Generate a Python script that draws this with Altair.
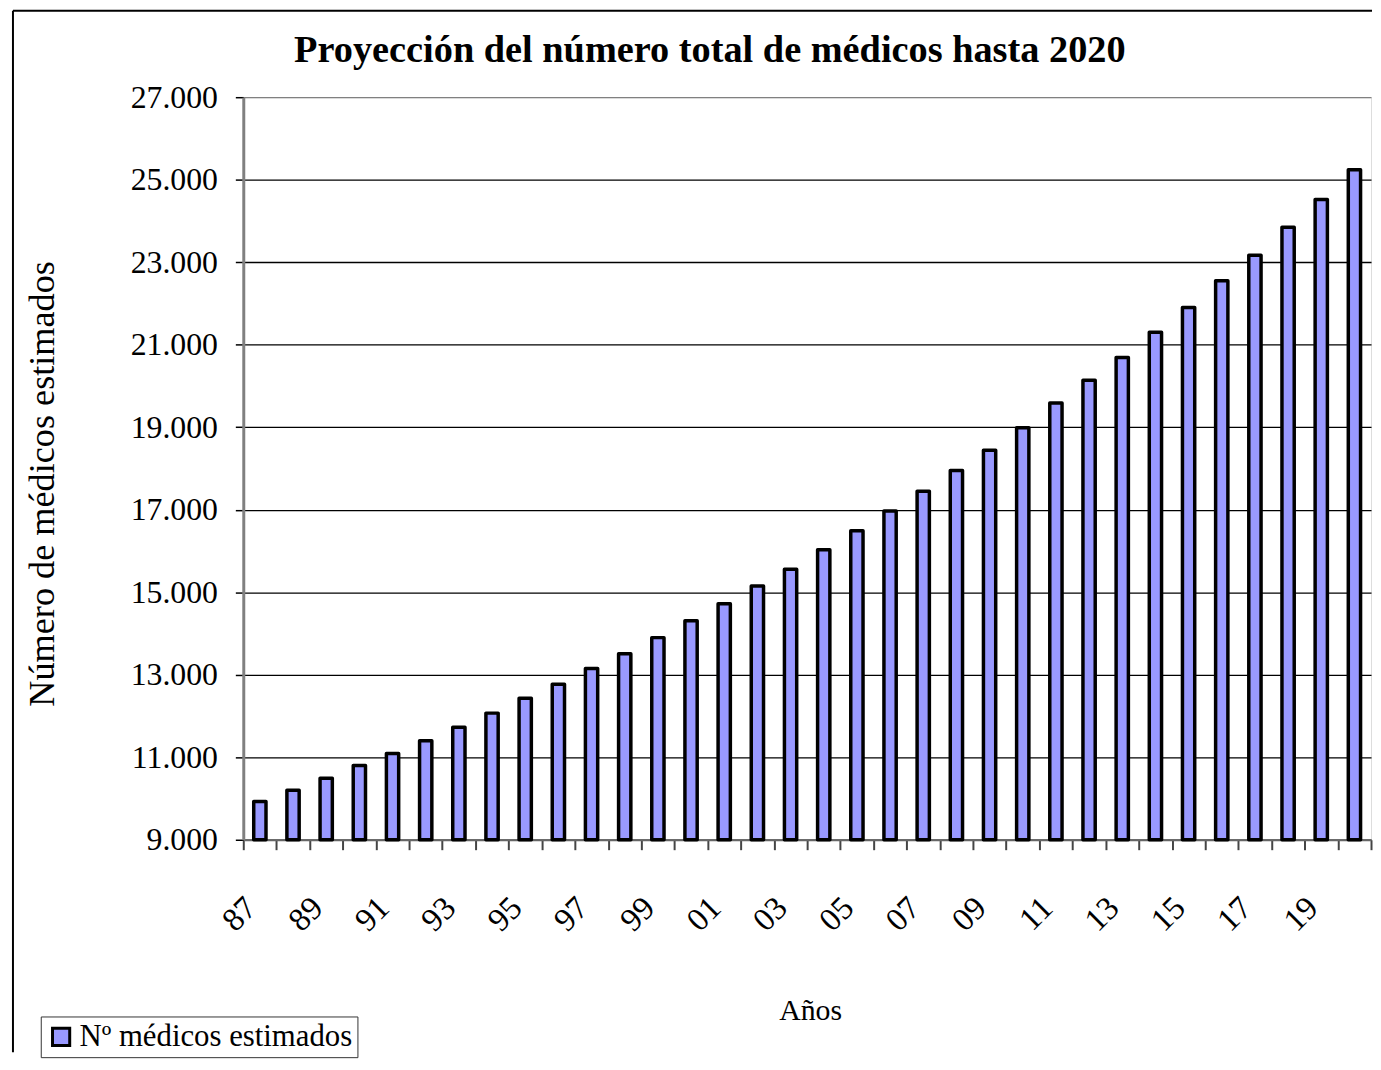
import altair as alt
import pandas as pd

# ---- data ----
years = ["87", "88", "89", "90", "91", "92", "93", "94", "95", "96", "97", "98",
         "99", "00", "01", "02", "03", "04", "05", "06", "07", "08", "09", "10",
         "11", "12", "13", "14", "15", "16", "17", "18", "19", "20"]
medicos = [9930, 10200, 10490, 10800, 11090, 11400, 11730, 12070, 12430, 12770,
           13150, 13510, 13900, 14310, 14720, 15150, 15560, 16030, 16490, 16970,
           17450, 17950, 18440, 18990, 19590, 20140, 20690, 21300, 21900, 22550,
           23170, 23850, 24520, 25240]
y_ticks = [9000, 11000, 13000, 15000, 17000, 19000, 21000, 23000, 25000, 27000]
serie = "Nº médicos estimados"
titulo = "Proyección del número total de médicos hasta 2020"

df = pd.DataFrame({"anio": years, "medicos": medicos, "serie": [serie] * len(years)})
one = pd.DataFrame({"t": [titulo]})

FONT = "Liberation Serif"
W, H = 1136, 748

frame_top = alt.Chart(one).mark_rule(color="black", strokeWidth=2).encode(
    x=alt.value(-232), x2=alt.value(W + 1), y=alt.value(-87))
frame_left = alt.Chart(one).mark_rule(color="black", strokeWidth=2).encode(
    x=alt.value(-232), y=alt.value(-87), y2=alt.value(962))

title_txt = alt.Chart(one).mark_text(
    font=FONT, fontSize=38.6, fontWeight="bold", color="black",
    align="center", baseline="top"
).encode(text="t:N", x=alt.value(470), y=alt.value(-65))

bars = alt.Chart(df).mark_bar(
    stroke="black", strokeWidth=3.5, strokeJoin="round",
    width=alt.RelativeBandSize(0.37)
).encode(
    x=alt.X("anio:N", sort=years,
            scale=alt.Scale(paddingInner=0, paddingOuter=0),
            axis=alt.Axis(
                title="Años", titleFont=FONT, titleFontSize=30, titleFontWeight="normal",
                titleColor="black", titleX=571, titleY=181, titleAlign="center",
                titleBaseline="alphabetic",
                labelAngle=315, labelAlign="right", labelBaseline="middle",
                labelPadding=53, labelOffset=-9, labelFont=FONT, labelFontSize=33,
                labelColor="black", labelOverlap=False, labelBound=False,
                labelExpr="toNumber(datum.value) % 2 == 1 ? datum.label : ''",
                tickBand="extent", tickSize=10, tickColor="#444", tickWidth=2,
                domainColor="#666", domainWidth=2, grid=False)),
    y=alt.Y("medicos:Q",
            scale=alt.Scale(domain=[9000, 27000], nice=False, zero=False),
            axis=alt.Axis(
                values=y_ticks,
                labelExpr="replace(format(datum.value, ',d'), ',', '.')",
                title="Número de médicos estimados", titleFont=FONT, titleFontSize=36.5,
                titleFontWeight="normal", titleColor="black", titleX=-191, titleY=389,
                titleAngle=270, titleAlign="center", titleBaseline="alphabetic",
                labelFont=FONT, labelFontSize=32, labelColor="black", labelPadding=18,
                tickSize=8, tickColor="black", tickWidth=1.5,
                domainColor="#808080", domainWidth=3,
                grid=True,
                gridColor={"condition": {"test": "datum.value >= 27000", "value": "#808080"},
                           "value": "black"},
                gridWidth=1.3, gridOpacity=1)),
    y2=alt.datum(9000),
    color=alt.Color("serie:N",
                    scale=alt.Scale(domain=[serie], range=["#9999ff"]),
                    legend=alt.Legend(
                        title=None, orient="none", legendX=-204, legendY=926,
                        symbolType="square", symbolSize=300,
                        symbolStrokeColor="black", symbolStrokeWidth=3,
                        labelFont=FONT, labelFontSize=31, labelColor="black",
                        labelLimit=600, labelOffset=3,
                        strokeColor="#333", fillColor="white", padding=5)),
)

chart = alt.layer(frame_top, frame_left, bars, title_txt).properties(
    width=W, height=H,
    padding={"left": 4, "top": -2, "right": 0, "bottom": 0},
).configure_view(stroke="#808080", strokeWidth=3).configure(background="white")

chart.save("out.html", embed_options={"renderer": "svg", "actions": False})
